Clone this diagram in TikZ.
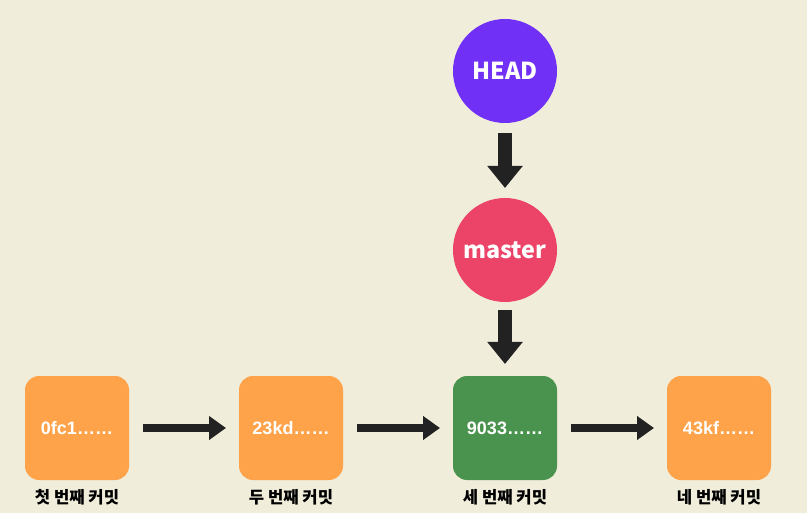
\documentclass[tikz,border=0pt]{standalone}
\usepackage{fontspec}
\setmainfont{Liberation Sans}
\newfontfamily\krfont{Noto Sans CJK KR}
\usetikzlibrary{positioning,arrows.meta}
\definecolor{bgcream}{RGB}{240,237,218}
\definecolor{commitorange}{RGB}{255,163,74}
\definecolor{commitgreen}{RGB}{74,147,78}
\definecolor{headpurple}{RGB}{113,48,245}
\definecolor{masterpink}{RGB}{236,68,104}
\definecolor{arrowdark}{RGB}{34,34,34}

\begin{document}
\begin{tikzpicture}[x=0.75pt,y=-0.75pt,
commitnode/.style={rectangle, rounded corners=10.5pt, fill=commitorange, minimum size=78pt, inner sep=0pt, outer sep=0pt, text=white, font=\bfseries\fontsize{13.5}{15}\selectfont},
refnode/.style={circle, minimum size=78pt, inner sep=0pt, outer sep=0pt, text=white, font=\krfont\bfseries\fontsize{17.5}{20}\selectfont},
captionnode/.style={inner sep=0pt, font=\krfont\bfseries\fontsize{12.5}{14}\selectfont},
harrow/.style={arrowdark, line width=6pt, -{Triangle[length=12.75pt,width=17.25pt]}, shorten <=10.5pt, shorten >=9.75pt},
varrow/.style={arrowdark, line width=10.5pt, -{Triangle[length=16.5pt,width=25.5pt]}, shorten <=7.5pt, shorten >=7.5pt},
]
\fill[bgcream] (0,0) rectangle (807,513);
\useasboundingbox (0,0) rectangle (807,513);

%Nodes
\node[commitnode]                    (c1) at (77,428)   {0fc1……};
\node[commitnode]                    (c2) [right=82.5pt of c1] {23kd……};
\node[commitnode, fill=commitgreen]  (c3) [right=82.5pt of c2] {9033……};
\node[commitnode]                    (c4) [right=82.5pt of c3] {43kf……};

\node[captionnode] (t1) [below=7pt of c1] {첫 번째 커밋};
\node[captionnode] (t2) [below=7pt of c2] {두 번째 커밋};
\node[captionnode] (t3) [below=7pt of c3] {세 번째 커밋};
\node[captionnode] (t4) [below=7pt of c4] {네 번째 커밋};

\node[refnode, fill=masterpink]  (master) at (505,250) {master};
\node[refnode, fill=headpurple]  (head)   at (505,71)  {HEAD};

%Lines
\draw[harrow] (c1.east) -- (c2.west);
\draw[harrow] (c2.east) -- (c3.west);
\draw[harrow] (c3.east) -- (c4.west);
\draw[varrow] (head.south) -- (master.north);
\draw[varrow, shorten <=6pt, shorten >=9pt] (master.south) -- (c3.north);
\end{tikzpicture}
\end{document}
